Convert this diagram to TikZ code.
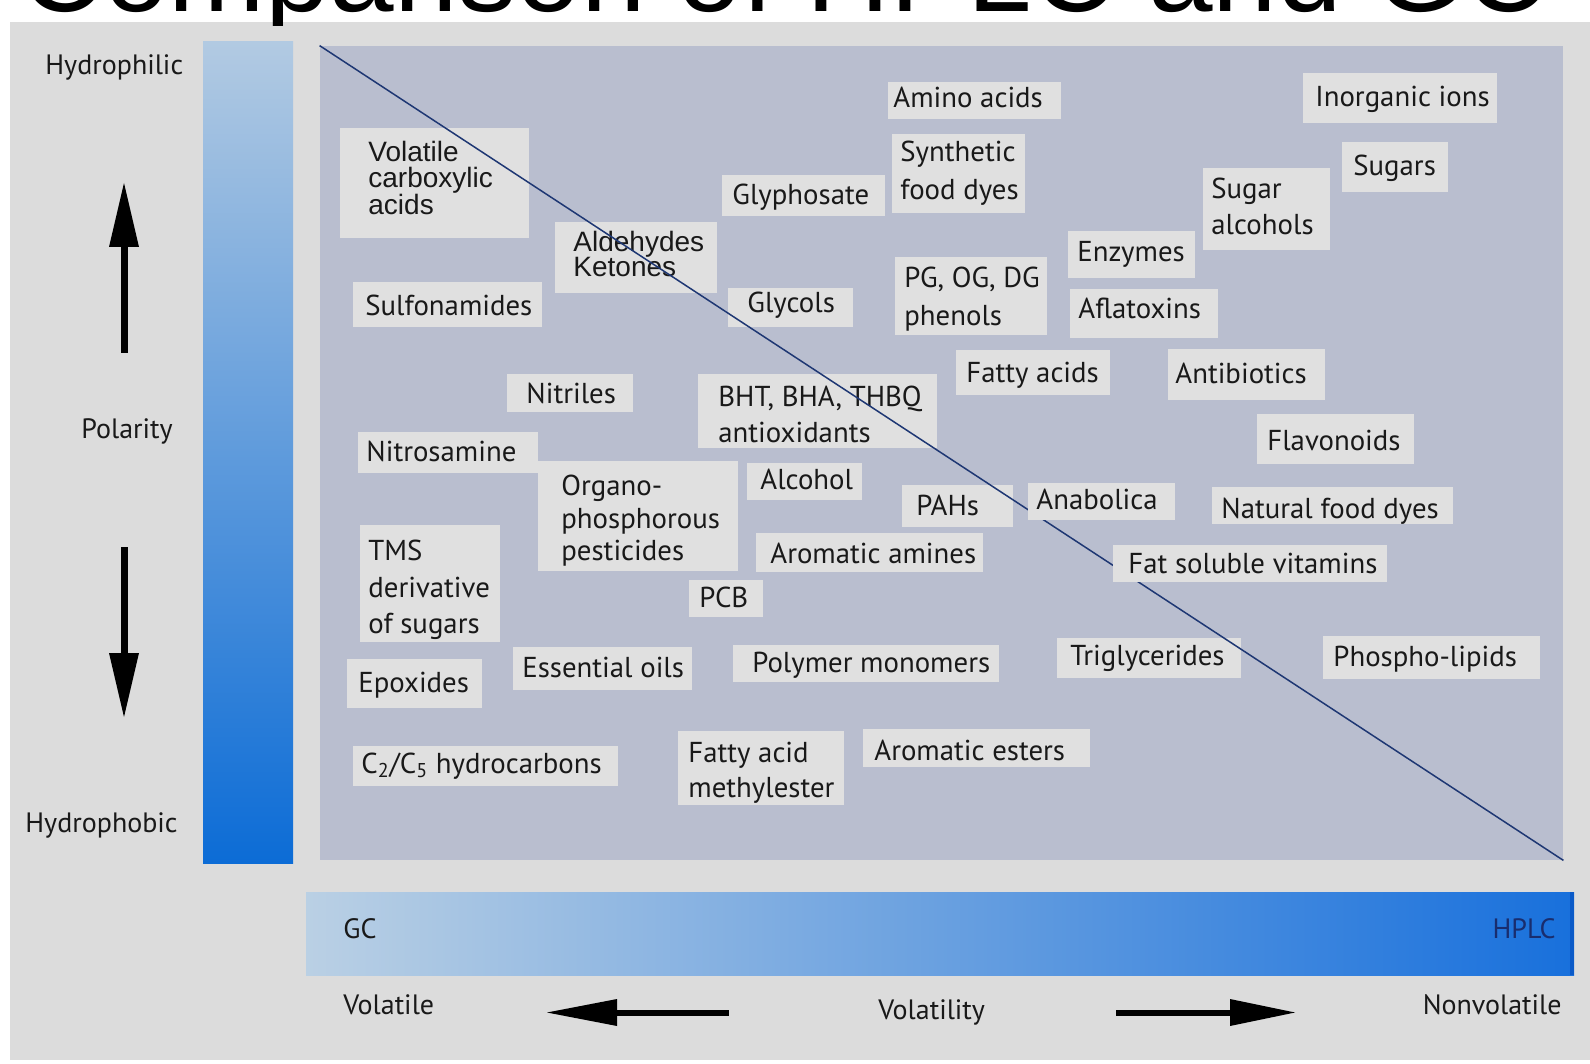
\documentclass[tikz,border=0pt]{standalone}
\usepackage{fontspec}
\setmainfont{PT Sans}
\newfontfamily\helv{Liberation Sans}
\usetikzlibrary{fit}
\definecolor{outerbg}{RGB}{220,220,220}
\definecolor{panelc}{RGB}{185,190,207}
\definecolor{boxc}{RGB}{224,224,224}
\definecolor{linec}{RGB}{30,55,115}
\definecolor{txt}{RGB}{25,25,25}
\definecolor{polt}{RGB}{178,202,226}
\definecolor{polm}{RGB}{100,162,222}
\definecolor{polb}{RGB}{12,108,214}
\definecolor{volL}{RGB}{186,208,228}
\definecolor{volM}{RGB}{112,166,220}
\definecolor{volR}{RGB}{24,112,220}
\definecolor{voledge}{RGB}{10,90,200}
\definecolor{hplcc}{RGB}{25,45,110}
\newcommand{\mkbox}[5]{\node[bx, fit={(#2,#3) (#4,#5)}] (#1) {};}
\begin{document}
\begin{tikzpicture}[x=0.5pt,y=-0.5pt,
  bx/.style={fill=boxc, inner sep=0pt, draw=none},
  lbl/.style={anchor=base west, inner sep=0pt, text=txt, font=\fontsize{14.4}{17}\selectfont},
  hl/.style={anchor=base west, inner sep=0pt, text=txt, font=\helv\fontsize{14}{13}\selectfont},
  axl/.style={anchor=base west, inner sep=0pt, text=txt, font=\fontsize{14}{17}\selectfont},
  arrowfill/.style={fill=black}
]
\useasboundingbox (0,0) rectangle (1590,1064);
\fill[white] (0,0) rectangle (1590,1064);
\fill[outerbg] (10,22) rectangle (1590,1060);
% clipped title
\begin{scope}
\clip (0,0) rectangle (1590,26);
\node[anchor=base west, inner sep=0pt, font=\helv\fontsize{58}{60}\selectfont] (title) at (20,12) {Comparison of HPLC and GC};
\end{scope}

% polarity bar
\shade[top color=polt, middle color=polm, bottom color=polb] (203,42) rectangle (293,863);
\node[axl] (hphil) at (45,75) {Hydrophilic};
\node[axl] (pol) at (81,438) {Polarity};
\node[axl] (hphob) at (25,832) {Hydrophobic};
\fill[arrowfill] (120.5,247) rectangle (127.5,353);
\fill[arrowfill] (109,247) -- (139,247) -- (124,183) -- cycle;
\fill[arrowfill] (120.5,547) rectangle (127.5,653);
\fill[arrowfill] (109,653) -- (139,653) -- (124,717) -- cycle;

% panel
\node[fill=panelc, inner sep=0pt, fit={(320,46) (1563,860)}] (panel) {};

% boxes
\mkbox{vca}{340}{128}{529}{238}
\node[hl] (vca1) at (368,162) {Volatile};
\node[hl] (vca2) at (368,188) {carboxylic};
\node[hl] (vca3) at (368,215) {acids};
\mkbox{ald}{555}{222}{717}{293}
\node[hl] (ald1) at (573,252) {Aldehydes};
\node[hl] (ald2) at (573,277) {Ketones};
\mkbox{sulf}{353}{282}{542}{327}
\node[lbl] (sulf1) at (365,315) {Sulfonamides};
\mkbox{nitr}{507}{374}{633}{412}
\node[lbl] (nitr1) at (526,403) {Nitriles};
\mkbox{nitro}{358}{432}{538}{473}
\node[lbl] (nitro1) at (366,461) {Nitrosamine};
\mkbox{bht}{698}{374}{937}{448}
\node[lbl] (bht1) at (718,406) {BHT, BHA, THBQ};
\node[lbl] (bht2) at (718,442) {antioxidants};
\mkbox{amino}{888}{82}{1061}{119}
\node[lbl] (amino1) at (893,108) {Amino acids};
\mkbox{synth}{892}{134}{1025}{213}
\node[lbl] (synth1) at (900,162) {Synthetic};
\node[lbl] (synth2) at (900,200) {food dyes};
\mkbox{glyph}{722}{175}{885}{216}
\node[lbl] (glyph1) at (732,205) {Glyphosate};
\mkbox{glyc}{728}{288}{853}{327}
\node[lbl] (glyc1) at (747,313) {Glycols};
\mkbox{pg}{895}{257}{1047}{335}
\node[lbl] (pg1) at (904,288) {PG, OG, DG};
\node[lbl] (pg2) at (904,326) {phenols};
\mkbox{enz}{1068}{231}{1195}{278}
\node[lbl] (enz1) at (1077,262) {Enzymes};
\mkbox{afla}{1070}{289}{1218}{338}
\node[lbl] (afla1) at (1078,319) {Aflatoxins};
\mkbox{fatty}{956}{350}{1110}{395}
\node[lbl] (fatty1) at (966,382) {Fatty acids};
\mkbox{inorg}{1303}{73}{1497}{123}
\node[lbl] (inorg1) at (1315,107) {Inorganic ions};
\mkbox{sugars}{1342}{142}{1448}{192}
\node[lbl] (sugars1) at (1353,176) {Sugars};
\mkbox{sugalc}{1203}{168}{1330}{250}
\node[lbl] (sugalc1) at (1211,199) {Sugar};
\node[lbl] (sugalc2) at (1211,235) {alcohols};
\mkbox{antib}{1168}{349}{1325}{400}
\node[lbl] (antib1) at (1175,383) {Antibiotics};
\mkbox{flav}{1257}{414}{1414}{464}
\node[lbl] (flav1) at (1267,450) {Flavonoids};
\mkbox{organo}{538}{461}{738}{571}
\node[lbl] (organo1) at (561,495) {Organo-};
\node[lbl] (organo2) at (561,528) {phosphorous};
\node[lbl] (organo3) at (561,560) {pesticides};
\mkbox{tms}{360}{525}{500}{642}
\node[lbl] (tms1) at (368,560) {TMS};
\node[lbl] (tms2) at (368,597) {derivative};
\node[lbl] (tms3) at (368,633) {of sugars};
\mkbox{pcb}{689}{580}{763}{617}
\node[lbl] (pcb1) at (699,607) {PCB};
\mkbox{ess}{513}{647}{692}{690}
\node[lbl] (ess1) at (522,677) {Essential oils};
\mkbox{epox}{347}{659}{482}{708}
\node[lbl] (epox1) at (358,692) {Epoxides};
\mkbox{hydc}{353}{746}{618}{786}
\node[lbl] (hydc1) at (361,773) {C\textsubscript{2}/C\textsubscript{5} hydrocarbons};
\mkbox{fame}{678}{731}{844}{805}
\node[lbl] (fame1) at (688,762) {Fatty acid};
\node[lbl] (fame2) at (688,797) {methylester};
\mkbox{alc}{747}{463}{862}{500}
\node[lbl] (alc1) at (760,489) {Alcohol};
\mkbox{pahs}{902}{485}{1013}{527}
\node[lbl] (pahs1) at (916,515) {PAHs};
\mkbox{aram}{756}{533}{983}{572}
\node[lbl] (aram1) at (770,563) {Aromatic amines};
\mkbox{poly}{733}{645}{999}{682}
\node[lbl] (poly1) at (752,672) {Polymer monomers};
\mkbox{trig}{1057}{638}{1241}{678}
\node[lbl] (trig1) at (1070,665) {Triglycerides};
\mkbox{ares}{863}{729}{1090}{767}
\node[lbl] (ares1) at (874,760) {Aromatic esters};
\mkbox{natd}{1212}{487}{1453}{524}
\node[lbl] (natd1) at (1221,518) {Natural food dyes};
\mkbox{phos}{1323}{636}{1540}{679}
\node[lbl] (phos1) at (1333,666) {Phospho-lipids};

% diagonal
\draw[linec, line width=0.75pt] (panel.north west) -- (panel.south east);

% boxes lying over the diagonal
\mkbox{anab}{1028}{483}{1175}{520}
\node[lbl] (anab1) at (1036,509) {Anabolica};
\mkbox{fsv}{1113}{545}{1387}{582}
\node[lbl] (fsv1) at (1128,573) {Fat soluble vitamins};

% volatility bar
\shade[left color=volL, middle color=volM, right color=volR] (306,892) rectangle (1574,975);
\fill[voledge] (1570,892) rectangle (1574,975);
\node[axl] (gc) at (343,938) {GC};
\node[axl, anchor=base east, text=hplcc] (hplc) at (1556,938) {HPLC};
\node[axl] (vol) at (343,1014) {Volatile};
\node[axl] (volty) at (878,1019) {Volatility};
\node[axl, anchor=base east] (nonvol) at (1562,1014) {Nonvolatile};
\fill[arrowfill] (617,1009.5) rectangle (729,1015.5);
\fill[arrowfill] (617,999) -- (617,1026) -- (547,1012.5) -- cycle;
\fill[arrowfill] (1116,1009.5) rectangle (1230,1015.5);
\fill[arrowfill] (1230,999) -- (1230,1026) -- (1295,1012.5) -- cycle;
\end{tikzpicture}
\end{document}
